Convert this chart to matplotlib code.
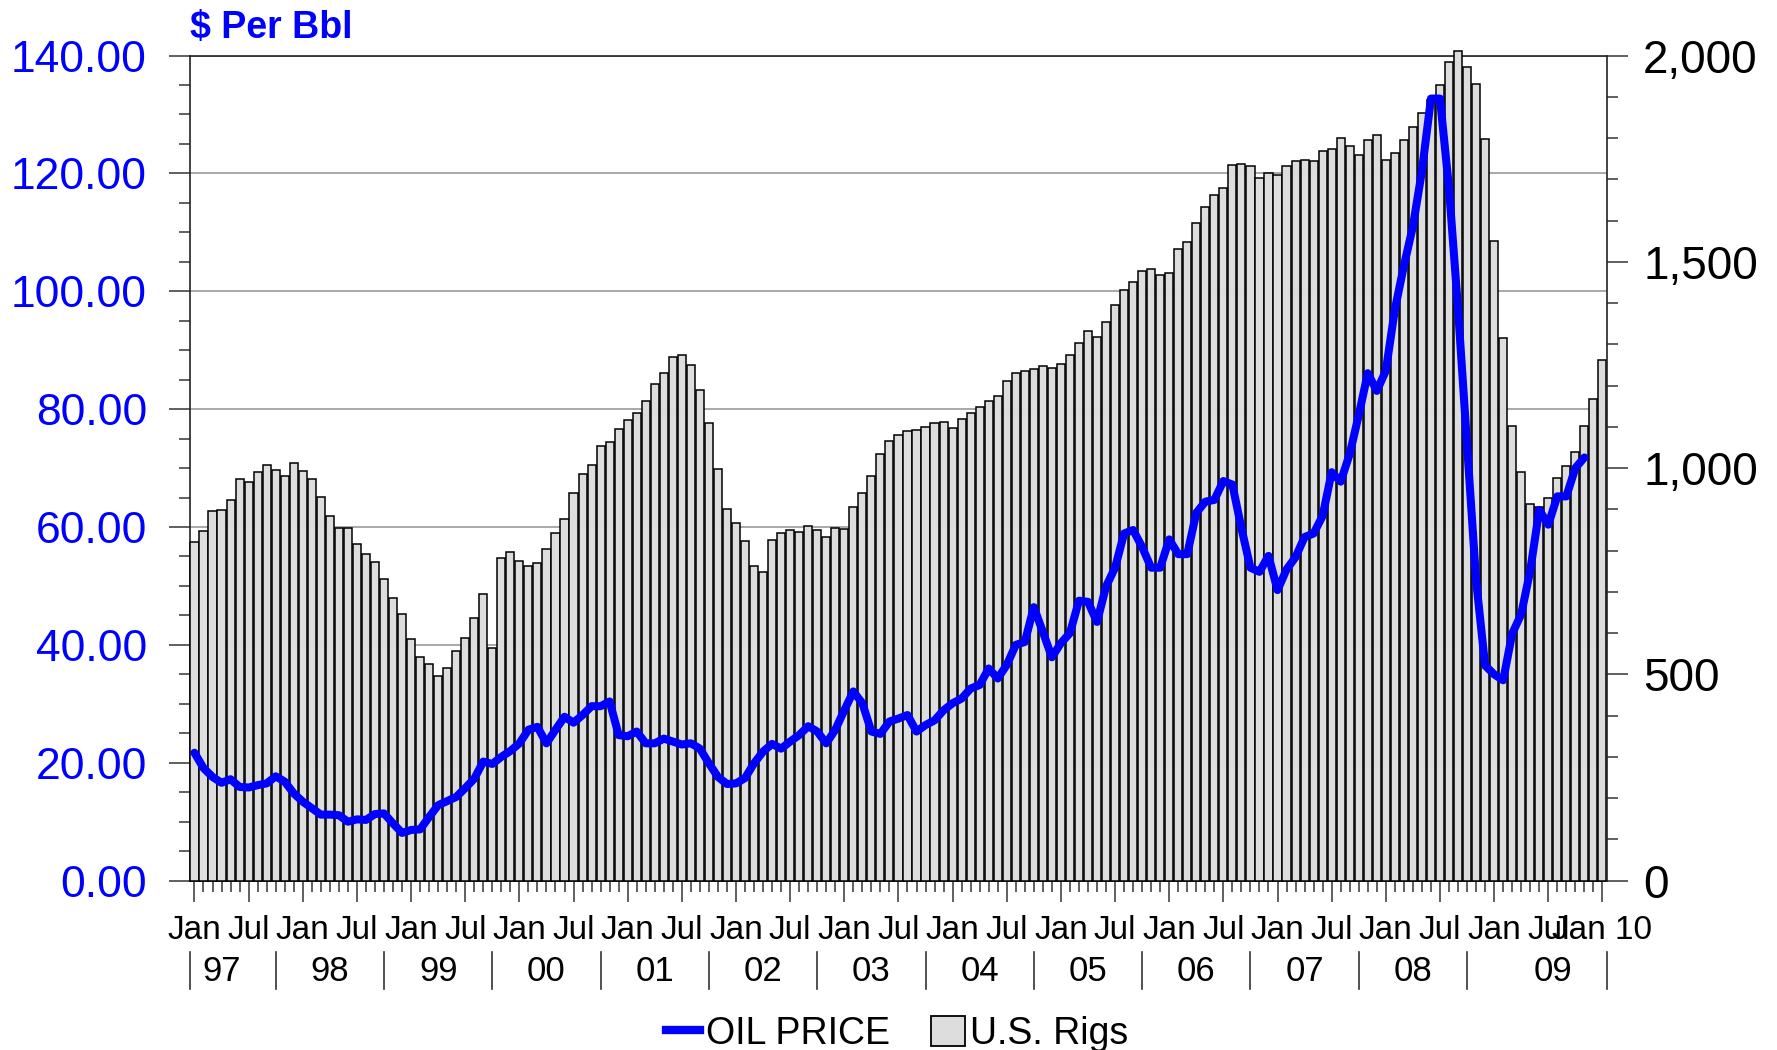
import numpy as np
import matplotlib.pyplot as plt
import matplotlib.transforms as mtransforms
from matplotlib.lines import Line2D
from matplotlib.patches import Patch

plt.rcParams["font.family"] = ["Liberation Sans", "DejaVu Sans"]
NARROW = ["Liberation Sans Narrow", "Liberation Sans", "DejaVu Sans"]

# U.S. rig count, monthly Jan 1997 .. Jan 2010
rigs = [821, 848, 895, 899, 922, 974, 967, 991, 1008, 995, 982, 1012,
        992, 973, 930, 884, 854, 854, 815, 791, 772, 732, 686, 646,
        585, 541, 524, 496, 515, 557, 587, 637, 694, 563, 781, 797,
        775, 762, 771, 803, 843, 876, 940, 985, 1008, 1053, 1063, 1095,
        1116, 1134, 1162, 1205, 1231, 1269, 1275, 1251, 1190, 1109, 999, 900,
        866, 824, 762, 748, 825, 843, 849, 845, 859, 850, 832, 854,
        852, 906, 940, 982, 1034, 1065, 1079, 1089, 1092, 1100, 1110, 1111,
        1098, 1118, 1134, 1148, 1162, 1175, 1210, 1231, 1235, 1240, 1248, 1242,
        1253, 1273, 1303, 1332, 1317, 1353, 1396, 1432, 1451, 1477, 1482, 1467,
        1472, 1531, 1549, 1595, 1632, 1663, 1678, 1734, 1736, 1732, 1703, 1715,
        1711, 1733, 1745, 1748, 1745, 1768, 1774, 1801, 1780, 1759, 1795, 1808,
        1747, 1763, 1795, 1827, 1860, 1892, 1929, 1984, 2011, 1973, 1932, 1797,
        1550, 1316, 1102, 991, 914, 905, 927, 976, 1004, 1040, 1103, 1168,
        1262]

# oil price, $ per barrel, monthly Jan 1997 .. Nov 2009
oil_price = [21.7, 19.1, 17.6, 16.6, 17.2, 15.9, 15.8, 16.2, 16.5, 17.7, 16.8, 14.8,
             13.4, 12.3, 11.2, 11.2, 11.1, 10.0, 10.4, 10.3, 11.3, 11.4, 9.7, 8.1,
             8.6, 8.7, 10.8, 12.8, 13.5, 14.2, 15.7, 17.3, 20.2, 19.8, 21.0, 22.0,
             23.3, 25.6, 26.1, 23.3, 25.6, 27.8, 26.8, 28.1, 29.6, 29.6, 30.4, 24.7,
             24.5, 25.3, 23.3, 23.3, 24.1, 23.6, 23.1, 23.3, 22.4, 19.9, 17.6, 16.4,
             16.5, 17.4, 19.9, 21.9, 23.2, 22.4, 23.6, 24.7, 26.2, 25.3, 23.3, 25.6,
             28.9, 32.1, 30.1, 25.3, 24.9, 27.0, 27.5, 28.1, 25.3, 26.4, 27.2, 28.9,
             30.1, 30.9, 32.6, 33.2, 36.0, 34.3, 36.6, 40.0, 40.5, 46.4, 42.2, 37.9,
             40.3, 42.0, 47.5, 47.3, 43.9, 49.9, 53.1, 58.9, 59.5, 56.6, 53.1, 53.1,
             57.9, 55.4, 55.4, 62.4, 64.3, 64.6, 67.8, 67.2, 59.8, 53.1, 52.4, 55.1,
             49.3, 52.8, 54.9, 58.3, 58.9, 61.9, 69.3, 67.7, 72.4, 79.0, 86.1, 83.1,
             86.5, 96.9, 104.3, 111.0, 120.4, 132.7, 132.7, 117.5, 97.0, 74.0, 51.0, 36.5,
             35.0, 34.0, 41.9, 45.2, 52.6, 62.9, 60.4, 65.2, 65.2, 70.0, 71.8]

month_labels = ["Jan", "Jul"] * 13 + ["Jan 10"]
year_labels = ["97", "98", "99", "00", "01", "02", "03", "04", "05", "06", "07", "08", "09"]
price_ticks = [0, 20, 40, 60, 80, 100, 120, 140]
rig_ticks = [0, 500, 1000, 1500, 2000]

months = np.arange(len(rigs))
price_months = np.arange(len(oil_price))

fig = plt.figure(figsize=(17.77, 10.5), dpi=100)
ax = fig.add_axes([0.1069, 0.1613, 0.7974, 0.7858])
ax_rig = ax.twinx()
ax_line = ax.twinx()

# left axis: price scale with gridlines (lowest layer)
ax.set_xlim(-0.5, len(rigs) - 0.5)
ax.set_ylim(0, 140)
ax.set_yticks(price_ticks)
ax.set_yticklabels([f"{v:.2f}" for v in price_ticks])
ax.set_yticks(np.arange(0, 141, 5), minor=True)
ax.yaxis.grid(True, which="major", color="#999999", lw=1.2)
ax.set_axisbelow(True)
ax.tick_params(axis="y", which="major", direction="out", length=15, width=1.2,
               color="#444444", labelsize=32, labelcolor="#0000FF", pad=16)
ax.tick_params(axis="y", which="minor", direction="out", length=8, width=1.2, color="#444444")
for s in ["left", "bottom", "top"]:
    ax.spines[s].set_color("#222222")
    ax.spines[s].set_linewidth(1.2)
ax.spines["right"].set_visible(False)

# x axis: month ticks
ax.set_xticks(np.arange(0, len(rigs), 6))
ax.set_xticklabels(month_labels, fontfamily=NARROW)
ax.set_xticks(months, minor=True)
ax.tick_params(axis="x", which="major", direction="out", length=15, width=1.2,
               color="#444444", labelsize=24, pad=10)
ax.tick_params(axis="x", which="minor", direction="out", length=8, width=1.2, color="#444444")

# year row with separators
trans = mtransforms.blended_transform_factory(ax.transData, ax.transAxes)
separators = [-0.5] + list(np.arange(9, 142, 12)) + [len(rigs) - 0.5]
year_pos = list(np.arange(3, 147, 12)) + [150.5]
for xs in separators:
    ax.plot([xs, xs], [-0.086, -0.131], color="#333333", lw=1.2,
            transform=trans, clip_on=False)
for xp, yl in zip(year_pos, year_labels):
    ax.text(xp, -0.11, yl, transform=trans, ha="center", va="center",
            fontsize=25, fontfamily=NARROW)

# right axis: rig count bars
ax_rig.bar(months, rigs, width=0.9, color="#DDDDDD", edgecolor="black",
           linewidth=1.1, clip_on=False)
ax_rig.set_ylim(0, 2000)
ax_rig.set_yticks(rig_ticks)
ax_rig.set_yticklabels([f"{v:,}" for v in rig_ticks])
ax_rig.set_yticks(np.arange(0, 2001, 100), minor=True)
ax_rig.tick_params(axis="y", which="major", direction="out", length=15, width=1.2,
                   color="#444444", labelsize=33, pad=11)
ax_rig.tick_params(axis="y", which="minor", direction="out", length=8, width=1.2, color="#444444")
for s in ["left", "bottom", "top"]:
    ax_rig.spines[s].set_visible(False)
ax_rig.spines["right"].set_color("#222222")
ax_rig.spines["right"].set_linewidth(1.2)

# oil price line on top
ax_line.plot(price_months, oil_price, color="#0000FF", lw=5.8,
             solid_capstyle="round", solid_joinstyle="round", clip_on=False)
ax_line.set_ylim(0, 140)
ax_line.yaxis.set_visible(False)
for s in ax_line.spines.values():
    s.set_visible(False)

fig.text(0.107, 0.973, "$ Per Bbl", color="#0000FF", fontsize=27,
         fontweight="bold", ha="left", va="center")

handles = [Line2D([0], [0], color="#0000FF", lw=6),
           Patch(facecolor="#DDDDDD", edgecolor="black", linewidth=1.3)]
fig.legend(handles, ["OIL PRICE", "U.S. Rigs"], loc="center",
           bbox_to_anchor=(0.505, 0.015), ncol=2, frameon=False,
           prop={"family": NARROW, "size": 27}, handlelength=0.9,
           handleheight=0.85, handletextpad=0.15, columnspacing=1.1)

fig.savefig("out.png", dpi=100)
